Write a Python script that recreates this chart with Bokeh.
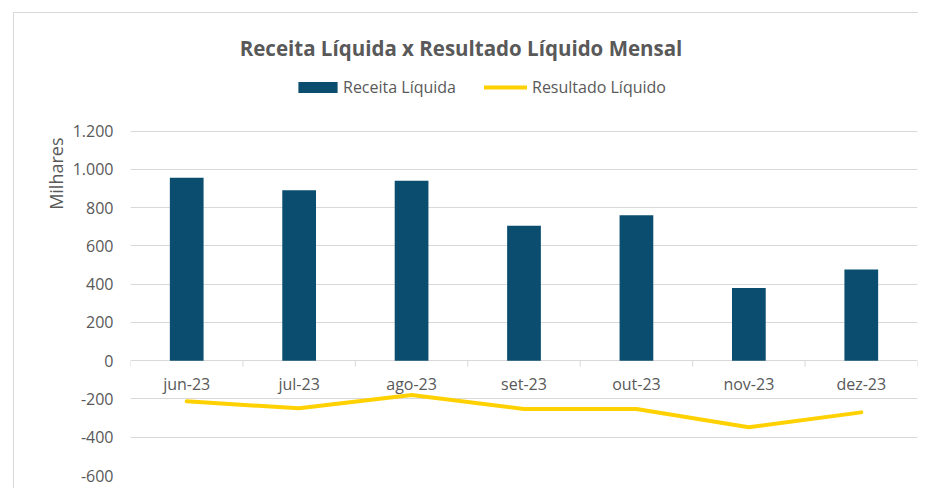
from bokeh.plotting import figure
from bokeh.models import (Range1d, FixedTicker, Legend, LegendItem, Label, Title,
                          ColumnDataSource)
from bokeh.core.properties import value
from bokeh.embed import file_html
from bokeh.resources import INLINE

# ---- data ----
months = ["jun-23", "jul-23", "ago-23", "set-23", "out-23", "nov-23", "dez-23"]
receita = [957, 891, 941, 705, 761, 380, 477]
resultado = [-212, -249, -179, -252, -252, -348, -270]
y_ticks = [-600, -400, -200, 0, 200, 400, 600, 800, 1000, 1200]
y_tick_labels = ["-600", "-400", "-200", "0", "200", "400", "600", "800", "1.000", "1.200"]
title_text = "Receita Líquida x Resultado Líquido Mensal"
unit_label = "Milhares"
series_names = ["Receita Líquida", "Resultado Líquido"]

FONT = "Open Sans"
TXT = "#595959"
BAR = "#0B4D6E"
LINE = "#FFD100"
GRID = "#D9D9D9"

xs = list(range(len(months)))
src = ColumnDataSource(dict(x=xs, month=months, receita=receita, resultado=resultado,
                            zero=[0] * len(months)))

p = figure(width=905, height=476, output_backend="svg", toolbar_location=None,
           x_range=Range1d(-0.5, len(months) - 0.5), y_range=Range1d(-600, 1815),
           min_border_left=116, min_border_right=2, min_border_top=0, min_border_bottom=14)
p.styles = {"margin-left": "13px", "margin-top": "12px",
            "border-top": "1px solid #D9D9D9", "border-left": "1px solid #D9D9D9"}
p.outline_line_color = None
p.background_fill_color = "white"
p.border_fill_color = "white"

p.xaxis.visible = False
p.xgrid.visible = False

p.yaxis.ticker = FixedTicker(ticks=y_ticks)
p.yaxis.major_label_overrides = {t: l for t, l in zip(y_ticks, y_tick_labels)}
p.yaxis.axis_line_color = None
p.yaxis.major_tick_line_color = None
p.yaxis.minor_tick_line_color = None
p.yaxis.major_tick_out = 0
p.yaxis.major_tick_in = 0
p.yaxis.major_label_standoff = 17
p.yaxis.major_label_text_font = FONT
p.yaxis.major_label_text_font_size = "16px"
p.yaxis.major_label_text_color = TXT
p.ygrid.ticker = FixedTicker(ticks=y_ticks)
p.ygrid.grid_line_color = GRID
p.ygrid.grid_line_width = 1

# tick marks at category boundaries along the zero line
bounds = [i - 0.5 for i in range(len(months) + 1)]
p.segment(x0=bounds, y0=[0] * len(bounds), x1=bounds, y1=[-31] * len(bounds),
          line_color=GRID, line_width=1)

bars = p.vbar(x="x", top="receita", width=0.30, source=src, fill_color=BAR, line_color=None)
line = p.line(x="x", y="resultado", source=src, line_color=LINE, line_width=4,
              line_join="round", line_cap="round")

# category labels just below the zero line
p.text(x="x", y="zero", text="month", source=src, text_align="center", text_baseline="top",
       y_offset=12, text_font=value(FONT), text_font_size=value("16px"), text_color=TXT)

# chart title
p.add_layout(Label(x=2.44, y=1637, text=title_text, text_align="center",
                   text_baseline="middle", text_font=FONT, text_font_size="20.5px",
                   text_font_style="bold", text_color=TXT))

# unit label
p.add_layout(Title(text=unit_label, align="right", offset=124, text_font=FONT,
                   text_font_size="18px", text_font_style="normal", text_color=TXT,
                   standoff=4), "left")

common = dict(orientation="horizontal", padding=0, margin=0, border_line_color=None,
              background_fill_alpha=0, label_text_font=FONT, label_text_font_size="16px",
              label_text_color=TXT)
legend_bar = Legend(items=[LegendItem(label=series_names[0], renderers=[bars])],
                    location=(163, 377), glyph_width=49, glyph_height=14,
                    label_standoff=1, **common)
legend_line = Legend(items=[LegendItem(label=series_names[1], renderers=[line])],
                     location=(354, 377), glyph_width=43, glyph_height=14,
                     label_standoff=5, **common)
p.add_layout(legend_bar)
p.add_layout(legend_line)

open("out.html", "w").write(file_html(p, INLINE))
